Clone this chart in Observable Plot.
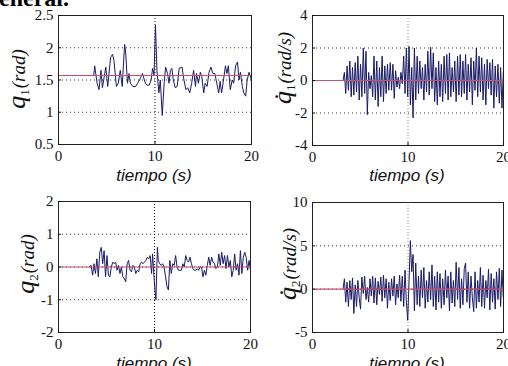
<!DOCTYPE html>
<html><head><meta charset="utf-8">
<script src="https://cdn.jsdelivr.net/npm/d3@7"></script>
<script src="https://cdn.jsdelivr.net/npm/@observablehq/plot@0.6"></script>
<style>
html,body{margin:0;padding:0;background:#fff;}
#root{position:relative;width:508px;height:366px;overflow:hidden;background:#fff;}
.panel{position:absolute;}
.panel svg, .panel svg text{font-family:"Liberation Serif","Times New Roman","DejaVu Serif",serif !important;font-size:15px !important;}
.ylab{position:absolute;transform:translate(-50%,-50%) rotate(-90deg);white-space:nowrap;font-family:"Liberation Serif","Times New Roman","DejaVu Serif",serif;font-style:italic;font-size:19px;color:#111;line-height:1;}
.ylab .q{font-size:26px;}
.ylab .s{font-size:13px;font-style:normal;position:relative;top:4px;margin-right:1px;}
.xlab{position:absolute;transform:translate(-50%,-50%);white-space:nowrap;font-family:"Liberation Sans",Arial,sans-serif;font-style:italic;font-size:17px;color:#111;line-height:1;}
.headbox{position:absolute;left:0;top:0;width:90px;height:7px;overflow:hidden;}
.head{position:absolute;left:-13px;top:-9px;font-family:"Liberation Serif","Times New Roman",serif;font-weight:bold;font-size:24px;line-height:14px;height:14px;color:#000;white-space:nowrap;}
</style>
</head><body>
<div id="root"></div>
<script>
// ---- data ----
const xTicks = [0, 10, 20];
const xLabel = "tiempo (s)";

// q1 (rad)
const q1T = [3.65,3.75,4.0,4.2,4.4,4.55,4.9,5.1,5.4,5.6,5.75,6.0,6.2,6.4,6.6,6.85,6.95,7.15,7.3,7.45,7.7,8.0,8.2,8.4,8.7,9.0,9.2,9.4,9.6,9.75,9.9,10.05,10.2,10.4,10.55,10.75,10.95,11.1,11.3,11.45,11.6,11.75,11.9,12.1,12.3,12.5,12.8,13.0,13.2,13.4,13.6,13.8,14.0,14.2,14.3,14.5,14.7,14.85,15.05,15.2,15.4,15.6,15.8,16.0,16.2,16.4,16.6,16.75,16.9,17.1,17.3,17.45,17.6,17.8,18.0,18.15,18.35,18.55,18.7,18.85,19.05,19.2,19.4,19.55,19.75,20.0];
const q1V = [1.57,1.72,1.45,1.35,1.65,1.38,1.7,1.4,1.85,1.9,1.8,1.4,1.45,1.65,1.4,2.05,1.95,1.45,1.6,1.45,1.4,1.4,1.45,1.5,1.6,1.45,1.42,1.42,1.5,1.68,1.58,2.35,1.65,1.3,1.5,0.95,1.45,1.7,1.6,1.45,1.65,1.68,1.5,1.38,1.4,1.68,1.7,1.5,1.35,1.38,1.3,1.45,1.65,1.4,1.6,1.45,1.62,1.55,1.3,1.45,1.4,1.62,1.7,1.6,1.6,1.45,1.3,1.48,1.3,1.5,1.72,1.6,1.72,1.35,1.5,1.45,1.72,1.78,1.5,1.62,1.4,1.3,1.25,1.5,1.62,1.5];
const q1Ref = [1.57];
const q1Ticks = [0.5, 1, 1.5, 2, 2.5];

// sample times of the fast signals (rad/s)
const tFast = [3.20,3.34,3.48,3.62,3.76,3.91,4.05,4.19,4.33,4.47,4.61,4.75,4.89,5.03,5.17,5.32,5.46,5.60,5.74,5.88,6.02,6.16,6.30,6.44,6.58,6.73,6.87,7.01,7.15,7.29,7.43,7.57,7.71,7.85,7.99,8.14,8.28,8.42,8.56,8.70,8.84,8.98,9.12,9.26,9.40,9.55,9.69,9.83,9.97,10.11,10.25,10.39,10.53,10.67,10.81,10.96,11.10,11.24,11.38,11.52,11.66,11.80,11.94,12.08,12.22,12.37,12.51,12.65,12.79,12.93,13.07,13.21,13.35,13.49,13.63,13.78,13.92,14.06,14.20,14.34,14.48,14.62,14.76,14.90,15.04,15.19,15.33,15.47,15.61,15.75,15.89,16.03,16.17,16.31,16.45,16.60,16.74,16.88,17.02,17.16,17.30,17.44,17.58,17.72,17.86,18.01,18.15,18.29,18.43,18.57,18.71,18.85,18.99,19.13,19.27,19.42,19.56,19.70,19.84,19.98];

// dq1 (rad/s)
const dq1V = [0,
 0.5,-0.8,0.9,-0.6,1.2,-1.0,0.8,-0.9,1.1,-0.7,1.5,-1.2,1.0,-1.0,
 2.0,-0.8,1.8,-2.1,
 0.5,-0.5,0.3,-1.0,1.5,-1.2,1.2,-1.6,0.8,-1.0,1.5,-1.3,0.9,-0.8,1.0,-0.6,
 1.1,-0.6,1.0,-1.1,0.6,-0.4,0.2,-0.5,0.5,-0.2,
 1.5,-0.8,2.0,-1.0,2.1,-1.5,0.8,-2.3,2.0,-1.2,1.5,-0.8,
 1.2,-0.5,0.8,-1.2,1.0,-0.7,1.8,-0.9,2.05,-0.5,
 1.7,-1.3,0.8,-1.5,1.2,-1.0,1.0,-1.3,1.5,-0.8,
 1.6,-1.2,1.7,-1.0,0.8,-0.7,1.2,-1.3,1.5,-0.9,1.6,
 -1.0,1.2,-0.8,1.6,-1.2,1.0,-0.7,1.4,-1.5,1.2,-0.6,2.0,-1.0,1.5,
 -0.7,1.4,-1.2,1.0,-1.5,1.3,-0.5,1.1,-0.9,1.3,-1.7,0.9,-1.0,1.0,-1.4,0.8,-1.7,0.5];
const dq1Ref = [0];
const dq1Ticks = [-4, -2, 0, 2, 4];

// q2 (rad)
const q2T = [3.2,3.4,3.55,3.7,3.85,4.0,4.15,4.3,4.45,4.6,4.75,4.9,5.05,5.2,5.35,5.5,5.65,5.8,5.95,6.1,6.25,6.4,6.55,6.7,6.85,7.0,7.15,7.3,7.45,7.6,7.75,7.9,8.05,8.2,8.35,8.5,8.65,8.8,8.95,9.1,9.25,9.4,9.55,9.7,9.8,9.95,10.05,10.15,10.3,10.4,10.55,10.7,10.85,11.0,11.15,11.3,11.45,11.6,11.75,11.9,12.05,12.2,12.35,12.5,12.65,12.8,12.95,13.1,13.25,13.4,13.55,13.7,13.85,14.0,14.15,14.3,14.45,14.6,14.75,14.9,15.05,15.2,15.35,15.5,15.65,15.8,15.95,16.1,16.25,16.4,16.55,16.7,16.85,17.0,17.15,17.3,17.45,17.6,17.75,17.9,18.05,18.2,18.35,18.5,18.65,18.8,18.95,19.1,19.25,19.4,19.55,19.7,19.85,20.0];
const q2V = [0.0,0.05,-0.25,0.1,-0.2,0.25,-0.3,0.45,0.6,0.1,0.5,-0.3,0.35,-0.25,-0.3,0.0,0.15,0.1,0.15,-0.1,0.05,-0.2,0.0,-0.3,-0.35,-0.45,0.1,0.2,-0.1,-0.15,0.05,0.0,-0.2,-0.1,-0.15,0.1,0.15,0.1,0.15,0.2,0.3,0.25,0.35,-0.2,0.4,-0.3,-0.7,-1.0,0.6,0.2,0.1,0.05,0.1,0.0,-0.3,-0.6,-0.7,0.2,-0.2,0.1,0.05,0.35,0.0,-0.1,-0.1,-0.1,0.1,0.0,0.35,0.2,0.15,0.3,0.1,-0.05,-0.1,-0.1,-0.05,-0.1,0.0,0.0,-0.3,-0.1,-0.25,0.05,0.3,0.05,0.3,0.15,0.1,-0.05,0.0,0.4,0.05,0.45,0.1,0.35,-0.05,0.35,0.0,0.2,-0.3,-0.1,0.4,-0.1,0.1,-0.25,0.5,-0.2,0.3,0.45,0.3,-0.1,0.2,-0.1];
const q2Ref = [0];
const q2Ticks = [-2, -1, 0, 1, 2];

// dq2 (rad/s)
const dq2V = [0,
 1.2,-1.5,0.8,-2.0,1.0,-1.2,1.3,-2.8,0.5,-2.0,
 1.0,-1.0,-2.3,1.4,-0.5,1.5,-1.2,0.2,-1.5,1.2,
 -0.8,1.5,-1.6,1.3,-1.8,0.9,-0.6,1.4,-1.4,1.6,
 -1.0,1.2,-2.2,0.8,-1.3,1.2,-0.8,1.5,-1.8,0.6,
 -1.0,1.6,-1.4,1.5,-2.0,2.2,-1.5,-3.6,1.0,5.6,
 2.0,4.0,-2.5,3.0,-1.8,1.5,-2.0,2.2,-1.0,2.5,
 -2.2,1.0,-1.5,2.0,-1.2,2.8,-2.0,1.5,-2.4,2.0,
 -1.5,1.8,-2.2,1.2,-1.8,2.2,-1.0,1.5,-2.5,2.0,
 -1.6,1.0,-2.0,3.1,-1.2,2.5,-2.2,1.2,-1.8,2.4,
 3.0,-1.5,2.0,-2.2,1.5,-1.0,-2.6,2.0,-2.2,1.0,
 -1.5,2.5,-2.0,1.6,-2.2,1.0,-1.0,2.3,-2.4,1.8,
 -1.5,1.2,-2.3,2.0,-1.2,2.4,-2.0,2.2,-1.0];
const dq2Ref = [0];
const dq2Ticks = [-5, 0, 5, 10];

// ---- drawing ----
const root = document.getElementById("root");
const headBox = document.createElement("div");
headBox.className = "headbox";
const head = document.createElement("div");
head.className = "head"; head.textContent = "general.";
headBox.appendChild(head);
root.appendChild(headBox);

function panel({t, v, ticks, ref, left, top, width, height, mt, mr, mb, ml, vgrid}) {
  const n = Math.min(t.length, v.length);
  const data = [];
  for (let i = 0; i < n; i++) data.push({t: t[i], v: v[i]});
  const fmt = d => String(d);
  const chart = Plot.plot({
    width, height,
    marginTop: mt, marginRight: mr, marginBottom: mb, marginLeft: ml,
    style: {fontFamily: "'Liberation Serif', 'Times New Roman', serif", fontSize: "15px", color: "#111", background: "transparent", overflow: "visible"},
    x: {domain: [xTicks[0], xTicks[xTicks.length - 1]]},
    y: {domain: [ticks[0], ticks[ticks.length - 1]]},
    marks: [
      Plot.gridY(ticks.slice(1, -1), {stroke: "#333", strokeOpacity: 1, strokeDasharray: "1,3"}),
      Plot.gridX(xTicks.slice(1, -1), {stroke: vgrid, strokeOpacity: 1, strokeDasharray: "1,2"}),
      Plot.line(data, {x: "t", y: "v", stroke: "#1a1a66", strokeWidth: 1}),
      Plot.ruleY(ref, {stroke: "#c4526e", strokeWidth: 1.2}),
      Plot.frame({stroke: "#222"}),
      Plot.axisX(xTicks, {tickSize: -3, tickPadding: 9, tickFormat: fmt, label: null}),
      Plot.axisY(ticks, {tickSize: -3, tickPadding: 8, tickFormat: fmt, label: null})
    ]
  });
  const div = document.createElement("div");
  div.className = "panel";
  div.style.left = left + "px"; div.style.top = top + "px";
  div.appendChild(chart);
  root.appendChild(div);
}

function ylab(html, x, y) {
  const d = document.createElement("div");
  d.className = "ylab"; d.innerHTML = html;
  d.style.left = x + "px"; d.style.top = y + "px";
  root.appendChild(d);
}
function xlab(x, y) {
  const d = document.createElement("div");
  d.className = "xlab"; d.textContent = xLabel;
  d.style.left = x + "px"; d.style.top = y + "px";
  root.appendChild(d);
}

panel({t: q1T, v: q1V, ticks: q1Ticks, ref: q1Ref, left: 0, top: 0, width: 256, height: 190, mt: 15, mr: 5, mb: 46, ml: 58, vgrid: "#111"});
panel({t: tFast, v: dq1V, ticks: dq1Ticks, ref: dq1Ref, left: 254, top: 0, width: 254, height: 190, mt: 15, mr: 5, mb: 45, ml: 58, vgrid: "#888"});
panel({t: q2T, v: q2V, ticks: q2Ticks, ref: q2Ref, left: 0, top: 186, width: 256, height: 180, mt: 15, mr: 6, mb: 34, ml: 58, vgrid: "#111"});
panel({t: tFast, v: dq2V, ticks: dq2Ticks, ref: dq2Ref, left: 254, top: 186, width: 254, height: 180, mt: 16, mr: 5, mb: 34, ml: 58, vgrid: "#888"});

ylab('<span class="q">q</span><span class="s">1</span>(rad)', 17, 79);
ylab('<span class="q">q&#775;</span><span class="s">1</span>(rad/s)', 283, 68);
ylab('<span class="q">q</span><span class="s">2</span>(rad)', 26, 264);
ylab('<span class="q">q&#775;</span><span class="s">2</span>(rad/s)', 288, 264);

xlab(154, 175); xlab(407, 175);
xlab(154, 363); xlab(407, 363);
</script>
</body></html>
